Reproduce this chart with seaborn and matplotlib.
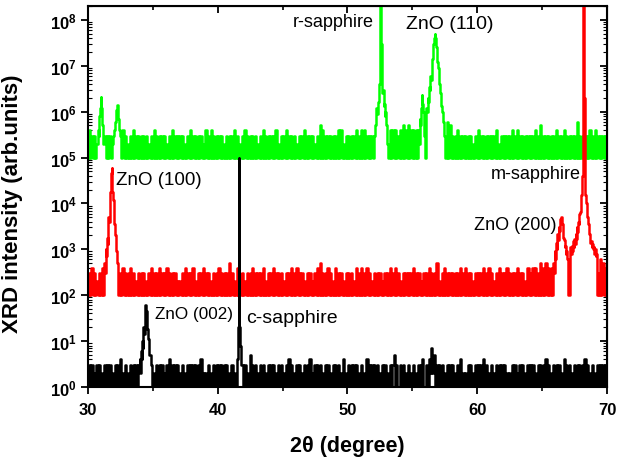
import numpy as np
import pandas as pd
import matplotlib
matplotlib.use("Agg")
import matplotlib.pyplot as plt
import matplotlib.ticker as mticker
import seaborn as sns

# XRD scans of ZnO films on c-, m- and r-plane sapphire (log scale, offset)
scan_start = 30.0
scan_step = 0.1

# background counts, one digit per 0.1 deg step (30.0 ... 70.0), 1 deg per chunk
c_counts = ("1313121313" "1213131312" "1313141213" "1213131313"
            "1313121313" "1213131312" "1314131313" "1213121313"
            "1313131412" "1213121313" "1313131312" "1312131313"
            "1312151313" "1213131213" "1313121313" "1213141312"
            "1313121313" "1412131313" "1213131213" "1313121412"
            "1313131312" "1312141313" "1313121313" "1213135131"
            "1313121312" "1312131341" "1314272513" "1313121313"
            "1312131412" "1213131213" "1313141312" "1312131313"
            "1312121313" "1213131213" "1313121313" "1314131213"
            "1313121413" "1312131313" "1314131213" "1213131313"
            "1")
m_counts = ("1314131213" "1413131312" "1313131413" "1314131213"
            "1313121314" "1313141313" "1413131312" "1213141313"
            "1412131314" "1313121313" "1413131315" "1312141313"
            "1213131413" "1313141213" "1314131313" "1213131413"
            "1413131213" "1312131415" "1313141312" "1413131213"
            "1313121413" "1413141312" "1313131213" "1314131413"
            "1213131313" "1413131213" "1314131315" "1213141313"
            "1313131413" "1413131213" "1313141314" "1312131413"
            "1314131313" "1413131214" "1314141315" "1415141415"
            "1313131313" "1313131313" "1313131313" "1113161514"
            "1")
r_counts = ("1413131213" "1313131312" "1313131413" "1213141313"
            "1313131213" "1413131313" "1213141313" "1313121314"
            "1313131312" "1413141313" "1313121313" "1314131213"
            "1413131313" "1213141313" "1313141213" "1314131313"
            "1213131413" "1313121315" "1413131313" "1314141213"
            "1313131413" "1414131313" "1313141313" "1414141413"
            "1415141514" "1414141514" "1313131313" "1313131615"
            "1313141313" "1313131213" "1413131313" "1313141213"
            "1313131413" "1413131313" "1313141315" "1313131313"
            "1413131413" "1313131613" "1313131413" "1413131313"
            "1")

# peak profiles (2theta, intensity)
zno002_x = [33.95, 34.0, 34.05, 34.1, 34.15, 34.2, 34.25, 34.3, 34.35, 34.4,
            34.45, 34.5, 34.55, 34.6, 34.65, 34.7, 34.75, 34.8, 34.85, 34.9]
zno002_y = [3, 4, 2, 6, 4, 10, 7, 20, 14, 45,
            62, 45, 25, 18, 11, 9, 5, 5, 3, 3]
c_sap_x = [41.5, 41.55, 41.6, 41.65, 41.7, 41.75, 41.8]
c_sap_y = [4, 8, 20, 1.0e5, 20, 8, 3]

zno100_x = [31.3, 31.35, 31.4, 31.45, 31.5, 31.55, 31.6, 31.65, 31.7, 31.75, 31.8,
            31.85, 31.9, 31.95, 32.0, 32.05, 32.1, 32.15, 32.2, 32.25, 32.3]
zno100_y = [500, 300, 1000, 700, 1800, 1300, 5000, 4000, 12000, 18000, 45000,
            58000, 18000, 12000, 6000, 3500, 2000, 1200, 900, 500, 400]
zno200_x = [65.9, 65.95, 66.0, 66.05, 66.1, 66.15, 66.2, 66.25, 66.3, 66.35,
            66.4, 66.45, 66.5, 66.55, 66.6, 66.65, 66.7, 66.75, 66.8, 66.85,
            66.9, 66.95, 67.0, 67.05, 67.1, 67.15, 67.2, 67.25, 67.3, 67.35,
            67.4, 67.45, 67.5, 67.55, 67.6, 67.65, 67.7, 67.75, 67.8, 67.85,
            67.9, 67.95, 68.0, 68.05, 68.1, 68.15, 68.2, 68.25, 68.3, 68.35,
            68.4, 68.45, 68.5, 68.55, 68.6, 68.65, 68.7, 68.75, 68.8, 68.85,
            68.9, 68.95, 69.0, 69.05, 69.1, 69.15, 69.2, 69.25]
zno200_y = [500, 300, 900, 600, 1400, 1000, 2200, 1600, 3000, 2500,
            4500, 3800, 5000, 3500, 2800, 1800, 1600, 1100, 1200, 800,
            900, 600, 500, 100, 100, 900, 1100, 800, 1200, 900,
            1500, 1100, 1700, 1300, 2200, 1700, 3000, 2400, 4000, 3500,
            5800, 6500, 9000, 15000, 40000, 2e6, 1e9, 2e6, 40000, 15000,
            10000, 7000, 5000, 3500, 3000, 2200, 1800, 1400, 1500, 1100,
            1300, 1000, 1100, 800, 1000, 700, 800, 100]

g31_x = [30.8, 30.85, 30.9, 30.95, 31.0, 31.05, 31.1, 31.15, 31.2]
g31_y = [4e5, 3e5, 8e5, 1.2e6, 2.1e6, 1.2e6, 5e5, 4e5, 2e5]
g32_x = [32.0, 32.05, 32.1, 32.15, 32.2, 32.25, 32.3, 32.35, 32.4, 32.45, 32.5]
g32_y = [3e5, 4e5, 6e5, 8e5, 1.1e6, 1.4e6, 9e5, 7e5, 5e5, 4e5, 3e5]
r_sap_x = [52.1, 52.15, 52.2, 52.25, 52.3, 52.35, 52.4, 52.45, 52.5, 52.55, 52.6,
           52.65, 52.7, 52.75, 52.8, 52.85, 52.9, 52.95, 53.0, 53.05, 53.1]
r_sap_y = [3e5, 5e5, 6e5, 1.2e6, 9e5, 1.3e6, 1.6e6, 4e6, 3e7, 1e9, 3e7,
           5e6, 2.5e6, 3e6, 1.3e6, 1.5e6, 8e5, 1e6, 5e5, 3e5, 2e5]
zno110_x = [55.5, 55.55, 55.6, 55.65, 55.7, 55.75, 55.8, 55.85, 55.9, 55.95,
            56.0, 56.05, 56.1, 56.15, 56.2, 56.25, 56.3, 56.35, 56.4, 56.45,
            56.5, 56.55, 56.6, 56.65, 56.7, 56.75, 56.8, 56.85, 56.9, 56.95,
            57.0, 57.05, 57.1, 57.15, 57.2, 57.25, 57.3, 57.35, 57.4, 57.45, 57.5]
zno110_y = [4e5, 2e5, 7e5, 5e5, 1.2e6, 2.3e6, 1.5e6, 1e6, 8e5, 3e5,
            1e5, 9e5, 1.2e6, 1e6, 2e6, 1.6e6, 3.5e6, 3e6, 6e6, 5e6,
            1.1e7, 1.4e7, 2e7, 3e7, 4e7, 5e7, 4e7, 2.5e7, 2e7, 1.2e7,
            9e6, 5e6, 4e6, 2.5e6, 2e6, 1.3e6, 1e6, 8e5, 6e5, 3e5, 3e5]


def build(name, counts, scale, segments):
    theta = np.round(scan_start + scan_step * np.arange(len(counts)), 2)
    inten = np.array([int(c) for c in counts], dtype=float) * scale
    keep = np.ones(len(theta), dtype=bool)
    xs, ys = [], []
    for sx, sy in segments:
        keep &= ~((theta >= min(sx) - 1e-6) & (theta <= max(sx) + 1e-6))
        xs += sx
        ys += sy
    x = np.concatenate([theta[keep], xs])
    y = np.concatenate([inten[keep], ys])
    order = np.argsort(x)
    return pd.DataFrame({"theta": x[order], "intensity": y[order], "sample": name})


df = pd.concat([
    build("r", r_counts, 1e5, [(g31_x, g31_y), (g32_x, g32_y), (r_sap_x, r_sap_y), (zno110_x, zno110_y)]),
    build("m", m_counts, 1e2, [(zno100_x, zno100_y), (zno200_x, zno200_y)]),
    build("c", c_counts, 1, [(zno002_x, zno002_y), (c_sap_x, c_sap_y)]),
], ignore_index=True)

sns.set_style("ticks")
plt.rcParams["font.family"] = ["Liberation Sans", "DejaVu Sans"]
plt.rcParams["font.weight"] = "bold"
plt.rcParams["mathtext.fontset"] = "custom"
plt.rcParams["mathtext.rm"] = "Liberation Sans:bold"
plt.rcParams["mathtext.bf"] = "Liberation Sans:bold"
for key in ["text.color", "axes.labelcolor", "xtick.color", "ytick.color", "axes.edgecolor"]:
    plt.rcParams[key] = "black"

fig, ax = plt.subplots(figsize=(6.17, 4.6), dpi=100)
fig.subplots_adjust(left=0.1426, right=0.9838, bottom=0.1565, top=0.9848)

sns.lineplot(data=df, x="theta", y="intensity", hue="sample", hue_order=["r", "m", "c"],
             palette={"r": "#00ff00", "m": "#ff0000", "c": "#000000"},
             estimator=None, sort=False, lw=1.8, drawstyle="steps-mid",
             legend=False, ax=ax)

ax.set_yscale("log")
ax.set_xlim(30, 70)
ax.set_ylim(1, 2e8)
ax.yaxis.set_major_locator(mticker.LogLocator(base=10, numticks=12))
ax.yaxis.set_minor_locator(mticker.LogLocator(base=10, subs=np.arange(2, 10), numticks=12))
ax.yaxis.set_minor_formatter(mticker.NullFormatter())
ax.xaxis.set_major_locator(mticker.MultipleLocator(10))
ax.xaxis.set_minor_locator(mticker.MultipleLocator(5))

for s in ax.spines.values():
    s.set_linewidth(1.5)
ax.tick_params(axis="both", which="major", direction="out", length=5, width=1.3,
               labelsize=12, pad=3)
ax.tick_params(axis="x", which="major", pad=6)
ax.tick_params(axis="x", which="minor", direction="out", length=3, width=1.2)
ax.tick_params(axis="y", which="minor", direction="in", length=3, width=0.8)

top = ax.secondary_xaxis("top")
top.xaxis.set_major_locator(mticker.MultipleLocator(10))
top.xaxis.set_minor_locator(mticker.MultipleLocator(5))
top.tick_params(which="major", direction="in", length=5, width=1.3, labeltop=False)
top.tick_params(which="minor", direction="in", length=3, width=1.2)
right = ax.secondary_yaxis("right")
right.set_yscale("log")
right.yaxis.set_major_locator(mticker.LogLocator(base=10, numticks=12))
right.yaxis.set_minor_locator(mticker.LogLocator(base=10, subs=np.arange(2, 10), numticks=12))
right.tick_params(which="major", direction="in", length=5, width=1.3, labelright=False)
right.tick_params(which="minor", direction="in", length=3, width=0.8, labelright=False)

ax.set_xlabel("2\u03b8 (degree)", fontsize=15.5, fontweight="bold")
ax.set_ylabel("XRD intensity (arb.units)", fontsize=16, fontweight="bold")
ax.xaxis.set_label_coords(0.5, -0.125)
ax.yaxis.set_label_coords(-0.125, 0.484)

ax.text(52.05, 7.3e7, "r-sapphire", fontsize=13, fontweight="normal", ha="right", va="baseline")
ax.text(57.9, 6.5e7, "ZnO (110)", fontsize=14, fontweight="normal", ha="center", va="baseline")
ax.text(32.16, 2.6e4, "ZnO (100)", fontsize=13.5, fontweight="normal", ha="left", va="baseline")
ax.text(68.0, 3.6e4, "m-sapphire", fontsize=13, fontweight="normal", ha="right", va="baseline")
ax.text(66.07, 2.8e3, "ZnO (200)", fontsize=13, fontweight="normal", ha="right", va="baseline")
ax.text(35.16, 32, "ZnO (002)", fontsize=12.3, fontweight="normal", ha="left", va="baseline")
ax.text(42.18, 26, "c-sapphire", fontsize=14, fontweight="normal", ha="left", va="baseline")

fig.savefig("out.png", dpi=100)
